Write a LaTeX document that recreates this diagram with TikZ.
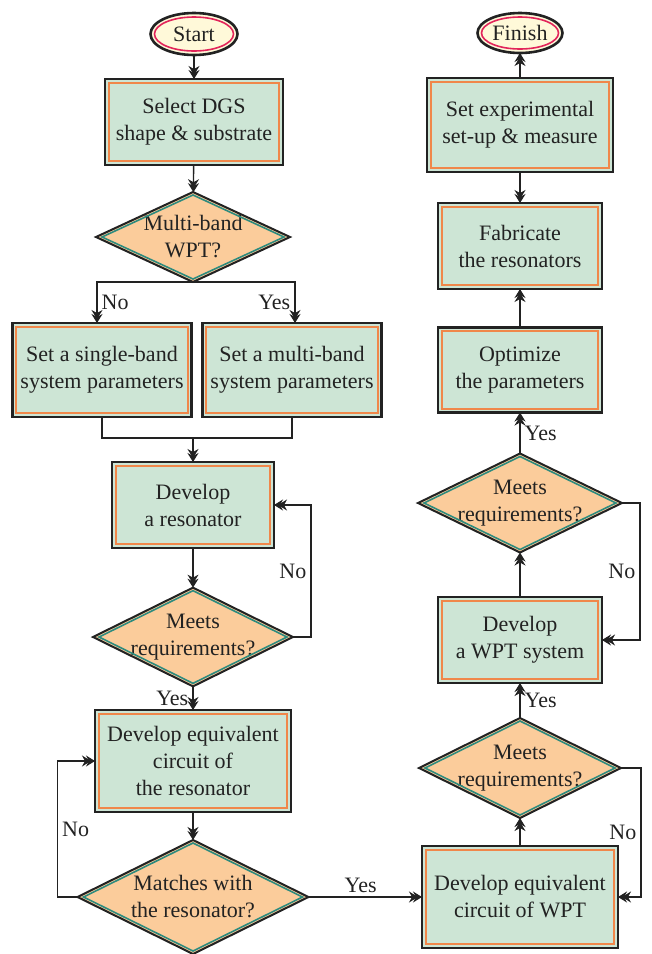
\documentclass[tikz,border=0pt]{standalone}
\usepackage{fontspec}
\setmainfont{Liberation Serif}
\usetikzlibrary{shapes.geometric,arrows.meta,calc}
\definecolor{boxfill}{RGB}{205,229,213}
\definecolor{boxorange}{RGB}{240,135,74}
\definecolor{dmfill}{RGB}{251,204,155}
\definecolor{dmteal}{RGB}{46,139,126}
\definecolor{ellfill}{RGB}{255,249,217}
\definecolor{ellred}{RGB}{226,36,90}
\definecolor{ink}{RGB}{34,34,34}
\begin{document}
\begin{tikzpicture}[x=0.5pt,y=-0.5pt,
    font=\fontsize{11}{13.5}\selectfont, text=ink,
    proc/.style={rectangle, draw=ink, line width=1.4pt, fill=boxfill, align=center, outer sep=0pt},
    dec/.style={diamond, draw=ink, line width=1pt, fill=dmfill, align=center, inner sep=-9pt, outer sep=0pt},
    term/.style={ellipse, draw=ink, line width=1.3pt, fill=ellfill, inner sep=0pt, outer sep=0pt},
    arr/.style={line width=0.7pt, draw=ink, -{Stealth[length=4.5pt,width=5.5pt,inset=1.5pt,sep=-2.5pt]Stealth[length=4.5pt,width=5.5pt,inset=1.5pt]}},
    lin/.style={line width=0.7pt, draw=ink},
    lab/.style={inner sep=2pt}]
\useasboundingbox (0,0) rectangle (652,954);

% left column
\node[term, minimum width=43.5pt, minimum height=21pt] (start) at (194,34) {Start};
\node[proc, minimum width=89pt, minimum height=43pt] (sel) at (194,122) {Select DGS\\shape \& substrate};
\node[dec, minimum width=97pt, minimum height=45pt] (q1) at (193,237) {Multi-band\\WPT?};
\node[proc, minimum width=89.5pt, minimum height=47pt] (single) at (102,370) {Set a single-band\\system parameters};
\node[proc, minimum width=89.5pt, minimum height=47pt] (multi) at (292,370) {Set a multi-band\\system parameters};
\node[proc, minimum width=81pt, minimum height=43pt] (dres) at (193,505) {Develop\\a resonator};
\node[dec, minimum width=100pt, minimum height=49pt] (q2) at (193,637) {Meets\\requirements?};
\node[proc, minimum width=98pt, minimum height=51pt] (deqr) at (193,761) {Develop equivalent\\circuit of\\the resonator};
\node[dec, minimum width=115.5pt, minimum height=57pt] (q3) at (193,897) {Matches with\\the resonator?};

% right column
\node[proc, minimum width=98pt, minimum height=51pt] (deqw) at (520,897) {Develop equivalent\\circuit of WPT};
\node[dec, minimum width=101pt, minimum height=50pt] (q4) at (520,768) {Meets\\requirements?};
\node[proc, minimum width=82pt, minimum height=43pt] (dwpt) at (520,640) {Develop\\a WPT system};
\node[dec, minimum width=102pt, minimum height=49.5pt] (q5) at (520,503) {Meets\\requirements?};
\node[proc, minimum width=82pt, minimum height=42.5pt] (opt) at (520,370) {Optimize\\the parameters};
\node[proc, minimum width=82pt, minimum height=43pt] (fab) at (520,246) {Fabricate\\the resonators};
\node[proc, minimum width=93pt, minimum height=47pt] (exp) at (520,125) {Set experimental\\set-up \& measure};
\node[term, minimum width=42.5pt, minimum height=20pt] (finish) at (520,33) {Finish};

% inner lines
\foreach \nd in {sel,single,multi,dres,deqr,deqw,dwpt,opt,fab,exp}
  \draw[boxorange, line width=1pt] ($(\nd.south west)+(3.8,-3.8)$) rectangle ($(\nd.north east)+(-3.8,3.8)$);
\foreach \nd in {q1,q2,q3,q4,q5}
  \draw[dmteal, line width=0.8pt] ($(\nd.west)+(6,0)$) -- ($(\nd.north)+(0,3)$) -- ($(\nd.east)+(-6,0)$) -- ($(\nd.south)+(0,-3)$) -- cycle;
\foreach \nd in {start,finish}
  \draw[ellred, line width=0.8pt] let \p1=($(\nd.east)-(\nd.center)$), \p2=($(\nd.north)-(\nd.center)$) in
    (\nd.center) ellipse [x radius=\x1-2pt, y radius=\y2-2pt];

% connectors
\draw[arr] (start) -- (sel);
\draw[arr] (sel) -- (q1);
\draw[arr] (q1.south) -| node[pos=0.75, right, lab] {No} ([xshift=-2.5pt]single.north);
\draw[arr] (q1.south) -| node[pos=0.75, left, lab] {Yes} ([xshift=1.5pt]multi.north);
\coordinate (m) at (193,438);
\draw[lin] (single.south) |- (m) -| (multi.south);
\draw[arr] (m) -- (dres.north);
\draw[arr] (dres) -- (q2);
\draw[arr] (q2.east) -- ++(18,0) |- node[pos=0.25, left, lab] {No} (dres.east);
\draw[arr] (q2) -- node[left, lab] {Yes} (deqr);
\draw[arr] (deqr) -- (q3);
\draw[arr] (q3.west) -- ++(-20,0) |- node[pos=0.25, right, lab] {No} (deqr.west);
\draw[arr] (q3) -- node[above, lab, pos=0.46] {Yes} (deqw);
\draw[arr] (deqw) -- (q4);
\draw[arr] (q4.east) -- ++(20,0) |- node[pos=0.25, left, lab] {No} (deqw.east);
\draw[arr] (q4) -- node[right, lab] {Yes} (dwpt);
\draw[arr] (dwpt) -- (q5);
\draw[arr] (q5.east) -- ++(18,0) |- node[pos=0.25, left, lab] {No} (dwpt.east);
\draw[arr] (q5) -- node[right, lab] {Yes} (opt);
\draw[arr] (opt) -- (fab);
\draw[arr] (exp) -- (fab);
\draw[arr] (exp) -- (finish);
\end{tikzpicture}
\end{document}
